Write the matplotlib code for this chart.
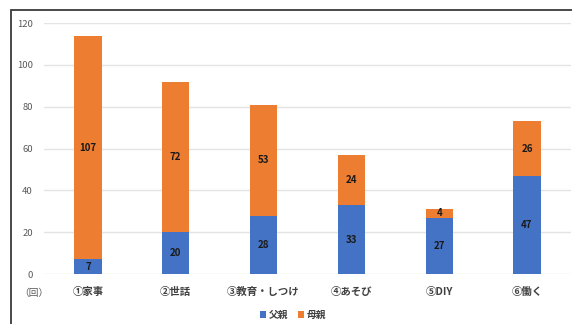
import matplotlib
matplotlib.use("Agg")
import matplotlib.pyplot as plt
from matplotlib.patches import Rectangle
import numpy as np

plt.rcParams['font.family'] = ['Noto Sans CJK JP', 'DejaVu Sans']

categories = ["①家事", "②世話", "③教育・しつけ", "④あそび", "⑤DIY", "⑥働く"]
father = [7, 20, 28, 33, 27, 47]
mother = [107, 72, 53, 24, 4, 26]
series_names = ["父親", "母親"]
yticks = [0, 20, 40, 60, 80, 100, 120]
unit_label = "（回）"

blue = "#4472C4"
orange = "#ED7D31"

fig = plt.figure(figsize=(5.72, 3.24), dpi=100)
ax = fig.add_axes([0.077, 0.154, 0.921, 0.775])

x = np.arange(len(categories))
w = 0.31
b1 = ax.bar(x, father, width=w, color=blue, label=series_names[0], zorder=3)
b2 = ax.bar(x, mother, width=w, bottom=father, color=orange, label=series_names[1], zorder=3)

ax.bar_label(b1, labels=[str(v) for v in father], label_type='center',
             fontsize=7, fontweight='bold', color='#1a1a1a')
ax.bar_label(b2, labels=[str(v) for v in mother], label_type='center',
             fontsize=7, fontweight='bold', color='#1a1a1a')

ax.set_xlim(-0.5, len(categories) - 0.5)
ax.set_ylim(0, 120)
ax.set_yticks(yticks)
ax.set_yticklabels([str(t) for t in yticks], fontsize=6.8, color='#595959')
ax.set_xticks(x)
ax.set_xticklabels(categories, fontsize=7.5, color='#404040', fontweight='bold')
ax.tick_params(axis='both', length=0)
ax.tick_params(axis='y', pad=8)
ax.tick_params(axis='x', pad=9)
ax.grid(axis='y', color='#E4E4E4', linewidth=1.0, zorder=0)
for s in ax.spines.values():
    s.set_visible(False)

fig.text(34 / 572, 1 - 293 / 324, unit_label, fontsize=7, color='#595959',
         ha='center', va='center')

leg = fig.legend(handles=[b1, b2], labels=series_names, loc='center',
                 bbox_to_anchor=(293 / 572, 1 - 315 / 324), ncol=2, frameon=False,
                 fontsize=7, handlelength=0.6, handleheight=0.6, handletextpad=0.3,
                 columnspacing=1.0)
for t in leg.get_texts():
    t.set_color('#404040')
    t.set_fontweight('bold')

fig.add_artist(Rectangle((11 / 572, -0.1), 1.2, 1 - 10 / 324 + 0.1,
                         transform=fig.transFigure, fill=False,
                         edgecolor='#3a3a3a', linewidth=1.3, clip_on=False))

fig.savefig("out.png", dpi=100)
